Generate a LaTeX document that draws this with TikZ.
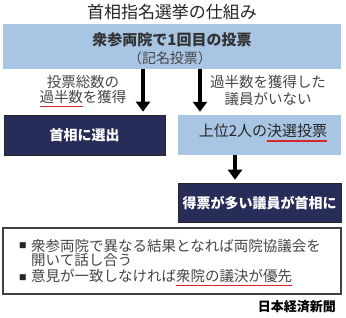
\documentclass[tikz,border=0pt]{standalone}
\usepackage{fontspec}
\setmainfont{Noto Sans CJK JP}
\usetikzlibrary{arrows.meta}
\definecolor{SMlight}{HTML}{A9C5E4}
\definecolor{SMdark}{HTML}{282C58}
\definecolor{SMred}{HTML}{D7262E}
\definecolor{SMgray}{HTML}{454545}
\newlength\SMulw
\newcommand\SMul[2][4.5pt]{\settowidth\SMulw{#2}\rlap{\textcolor{SMred}{\rule[-#1]{\SMulw}{1.5pt}}}#2}
\tikzset{SMlt/.style={fill=SMlight,inner sep=0pt},
         SMdk/.style={fill=SMdark,draw=black!85,line width=0.6pt,inner sep=0pt},
         SMtxt/.style={font=\fontsize{14.5}{15}\selectfont,text=SMgray,inner sep=0pt},
         SMwt/.style={font=\fontsize{14}{15}\selectfont\bfseries,text=white,inner sep=0pt},
         SMarr/.style={line width=4pt,-{Triangle[width=14pt,length=10pt]},shorten >=3pt}}

\begin{document}
\begin{tikzpicture}[x=1pt,y=-1pt]
    \useasboundingbox (0,0) rectangle (346,318);
    \node[font=\fontsize{17}{18}\selectfont,text=black!85] (title) at (172,12) {首相指名選挙の仕組み};
    % first vote
    \node[SMlt,minimum width=338pt,minimum height=45pt] (top) at (172,46.5) {};
    \node[font=\fontsize{15}{16}\selectfont\bfseries,text=black!80,inner sep=0pt] (topa) at (172,40) {衆参両院で1回目の投票};
    \node[font=\fontsize{14}{15}\selectfont,text=SMgray,inner sep=0pt] (topb) at (170,58) {（記名投票）};
    % the two outcomes
    \node[SMdk,minimum width=161pt,minimum height=40pt] (sel) at (84.5,135) {};
    \node[SMwt] (selt) at (84.5,135) {首相に選出};
    \node[SMlt,minimum width=163pt,minimum height=40pt] (run) at (259.5,135) {};
    \node[SMtxt,font=\fontsize{15}{16}\selectfont,text=black!85] (runt) at (263,133) {上位2人の\SMul[5pt]{決選投票}};
    \node[SMdk,minimum width=163pt,minimum height=39pt] (win) at (259.5,202.5) {};
    \node[SMwt] (wint) at (259.5,203) {得票が多い議員が首相に};
    \node[SMtxt] (la) at (83,82) {投票総数の};
    \node[SMtxt] (lb) at (83,99) {\SMul{過半数}を獲得};
    \node[SMtxt] (ra) at (268,82) {過半数を獲得した};
    \node[SMtxt] (rb) at (268,99) {議員がいない};
    \draw[SMarr] ([xshift=-29pt]top.south) -- ([xshift=-29pt]top.south |- sel.north);
    \draw[SMarr] ([xshift=28pt]top.south) -- ([xshift=28pt]top.south |- run.north);
    \draw[SMarr] ([xshift=-24.5pt]run.south) -- ([xshift=-24.5pt]run.south |- win.north);
    % notes
    \node[draw=black!75,line width=1.2pt,fill=white,minimum width=338pt,minimum height=66pt,inner sep=0pt] (note) at (172,261) {};
    \foreach \y/\n in {246/ba,278/bb}
      {\node[font=\fontsize{7.5}{8}\selectfont,text=black!85,inner sep=0pt] (\n) at (23,\y) {■};}
    \node[SMtxt,anchor=west] (na) at (31,246) {衆参両院で異なる結果となれば両院協議会を};
    \node[SMtxt,anchor=west] (nb) at (31,260.5) {開いて話し合う};
    \node[SMtxt,anchor=west] (nc) at (31,278) {意見が一致しなければ\SMul{衆院の議決が優先}};
    \node[font=\fontsize{13}{14}\selectfont\bfseries,text=black,inner sep=0pt,anchor=east] (src) at (336,307) {日本経済新聞};
  \end{tikzpicture}
\end{document}
